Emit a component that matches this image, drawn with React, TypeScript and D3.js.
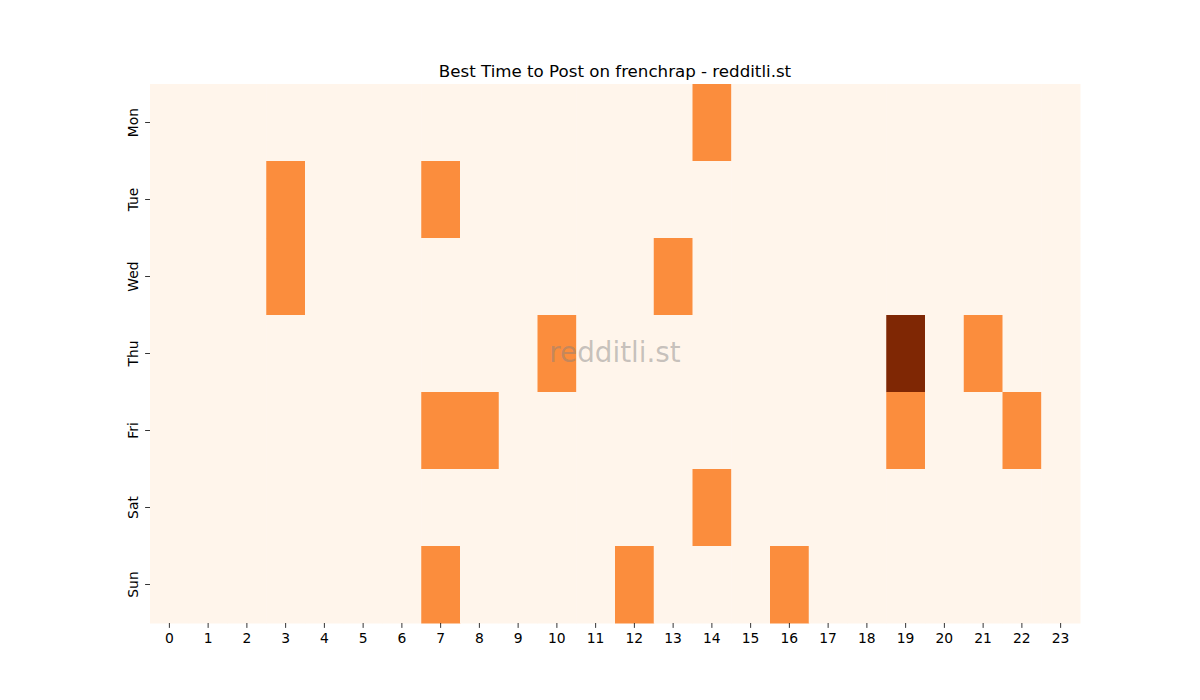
import React from "react";
import * as d3 from "d3";

const days = ["Mon", "Tue", "Wed", "Thu", "Fri", "Sat", "Sun"];
const hours = d3.range(24).map(String);
// [dayIndex, hour, value]
const activeCells: [number, number, number][] = [
  [0, 14, 1],
  [1, 3, 1],
  [1, 7, 1],
  [2, 3, 1],
  [2, 13, 1],
  [3, 10, 1],
  [3, 19, 2],
  [3, 21, 1],
  [4, 7, 1],
  [4, 8, 1],
  [4, 19, 1],
  [4, 22, 1],
  [5, 14, 1],
  [6, 7, 1],
  [6, 12, 1],
  [6, 16, 1],
];
const title = "Best Time to Post on frenchrap - redditli.st";
const watermark = "redditli.st";

export default function App() {
  const W = 1200, H = 700;
  const left = 150, right = 1080, top = 84, bottom = 623;
  const grid: { d: number; h: number; v: number }[] = [];
  days.forEach((_, d) => hours.forEach((_, h) => grid.push({ d, h, v: 0 })));
  activeCells.forEach(([d, h, v]) => { grid[d * 24 + h].v = v; });
  const x = d3.scaleBand<string>().domain(hours).range([left, right]);
  const y = d3.scaleBand<string>().domain(days).range([top, bottom]);
  const maxV = d3.max(grid, (g) => g.v) ?? 1;
  const color = (v: number) => d3.interpolateOranges(v / maxV);
  const font = "DejaVu Sans, sans-serif";
  return (
    <svg width={W} height={H} style={{ display: "block", margin: -8 }} fontFamily={font}>
      <rect width={W} height={H} fill="#fff" />
      {grid.map((g) => (
        <rect
          key={`${g.d}-${g.h}`}
          x={x(hours[g.h])}
          y={y(days[g.d])}
          width={x.bandwidth() + 0.5}
          height={y.bandwidth() + 0.5}
          fill={color(g.v)}
        />
      ))}
      <text x={(left + right) / 2} y={77} textAnchor="middle" fontSize={16.67} fill="#000">
        {title}
      </text>
      {hours.map((h) => {
        const cx = (x(h) ?? 0) + x.bandwidth() / 2;
        return (
          <g key={h}>
            <line x1={cx} x2={cx} y1={bottom} y2={bottom + 4.9} stroke="#000" strokeWidth={0.8} />
            <text x={cx} y={bottom + 20} textAnchor="middle" fontSize={13.89} fill="#000">{h}</text>
          </g>
        );
      })}
      {days.map((d) => {
        const cy = (y(d) ?? 0) + y.bandwidth() / 2;
        return (
          <g key={d}>
            <line x1={left - 4.9} x2={left} y1={cy} y2={cy} stroke="#000" strokeWidth={0.8} />
            <text
              transform={`translate(${left - 12},${cy}) rotate(-90)`}
              textAnchor="middle"
              fontSize={13.89}
              fill="#000"
            >
              {d}
            </text>
          </g>
        );
      })}
      <text
        x={615}
        y={362}
        textAnchor="middle"
        fontSize={27.8}
        fill="#808080"
        fillOpacity={0.45}
      >
        {watermark}
      </text>
    </svg>
  );
}
